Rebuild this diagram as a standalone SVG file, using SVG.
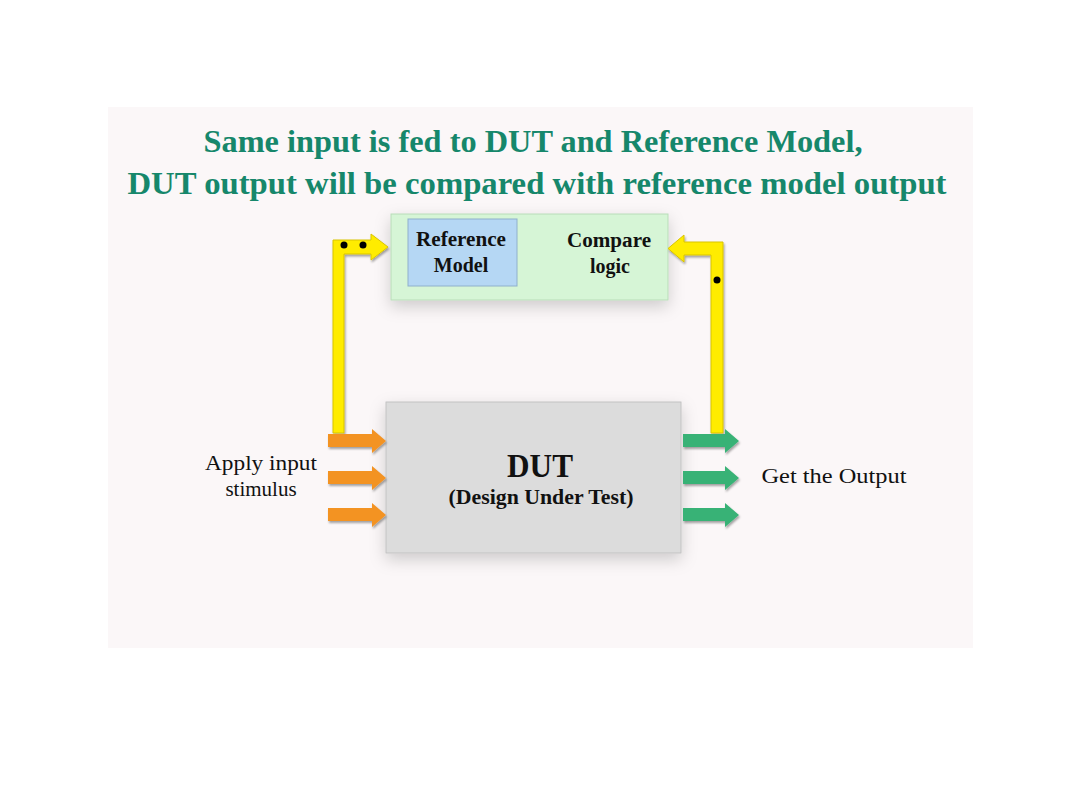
<svg xmlns="http://www.w3.org/2000/svg" width="1080" height="810" viewBox="0 0 1080 810">
<defs>
<filter id="sh" x="-20%" y="-20%" width="140%" height="150%">
<feDropShadow dx="0" dy="6" stdDeviation="8" flood-color="#000" flood-opacity="0.18"/>
</filter>
<filter id="ash" x="-20%" y="-30%" width="140%" height="180%">
<feDropShadow dx="1" dy="2" stdDeviation="1.2" flood-color="#000" flood-opacity="0.35"/>
</filter>
<style>
.title{font-family:"Liberation Serif",serif;font-weight:bold;font-size:32px;fill:#16876b;text-anchor:middle}
.lbl{font-family:"Liberation Serif",serif;font-weight:bold;font-size:20px;fill:#111;text-anchor:middle}
.big{font-size:34px}
.txt{font-family:"Liberation Serif",serif;font-size:21px;fill:#111;text-anchor:middle}
.yel{fill:#ffec00;stroke:#d9c400;stroke-width:1}
.org{fill:#f39324}
.grn{fill:#38b276}
.dot{fill:#000}
</style>
</defs>
<rect x="0" y="0" width="1080" height="810" fill="#ffffff"/>
<rect x="108" y="107" width="865" height="541" fill="#fbf7f8"/>
<g id="title">
<text class="title" x="533" y="152" textLength="659" lengthAdjust="spacingAndGlyphs">Same input is fed to DUT and Reference Model,</text>
<text class="title" x="537" y="194" textLength="819" lengthAdjust="spacingAndGlyphs">DUT output will be compared with reference model output</text>
</g>
<g id="compare-block">
<rect x="391" y="214" width="277" height="86" fill="#d6f5d6" stroke="#b8dcb8" stroke-width="1" filter="url(#sh)"/>
<text class="lbl" x="609" y="247" textLength="84" lengthAdjust="spacingAndGlyphs">Compare</text>
<text class="lbl" x="610" y="273">logic</text>
</g>
<g id="reference-model">
<rect x="408" y="219" width="109" height="67" fill="#b5d7f4" stroke="#8fb0cc" stroke-width="1"/>
<text class="lbl" x="461" y="246" textLength="90" lengthAdjust="spacingAndGlyphs">Reference</text>
<text class="lbl" x="461" y="272">Model</text>
</g>
<g id="dut">
<rect x="386" y="402" width="295" height="151" fill="#dcdcdc" stroke="#c2c2c2" stroke-width="1" filter="url(#sh)"/>
<text class="lbl big" x="540" y="477" textLength="66" lengthAdjust="spacingAndGlyphs">DUT</text>
<text class="lbl" x="541" y="504" textLength="185" lengthAdjust="spacingAndGlyphs">(Design Under Test)</text>
</g>
<g id="input-label">
<text class="txt" x="261" y="470" textLength="112" lengthAdjust="spacingAndGlyphs">Apply input</text>
<text class="txt" x="261" y="496">stimulus</text>
</g>
<g id="output-label">
<text class="txt" x="834" y="483" textLength="145" lengthAdjust="spacingAndGlyphs">Get the Output</text>
</g>
<g id="connectors">
<path class="yel" filter="url(#ash)" d="M333,433 L333,240 L371,240 L371,234 L388,247 L371,260 L371,254 L344,254 L344,433 Z"/>
<circle class="dot" cx="344" cy="245" r="3.5"/>
<circle class="dot" cx="363" cy="245" r="3.5"/>
<path class="yel" filter="url(#ash)" d="M723,433 L723,242 L684,242 L684,235 L668,248.5 L684,262 L684,255 L711,255 L711,433 Z"/>
<circle class="dot" cx="717" cy="280" r="3.5"/>
<g class="org" filter="url(#ash)">
<path d="M328,434 L372,434 L372,429 L386,441 L372,453 L372,447 L328,447 Z"/>
<path d="M328,471 L372,471 L372,466 L386,478 L372,490 L372,484 L328,484 Z"/>
<path d="M328,508 L372,508 L372,503 L386,515 L372,527 L372,521 L328,521 Z"/>
</g>
<g class="grn" filter="url(#ash)">
<path d="M683,434 L725,434 L725,429 L739,441 L725,453 L725,447 L683,447 Z"/>
<path d="M683,471 L725,471 L725,466 L739,478 L725,490 L725,484 L683,484 Z"/>
<path d="M683,508 L725,508 L725,503 L739,515 L725,527 L725,521 L683,521 Z"/>
</g>
</g>
</svg>
